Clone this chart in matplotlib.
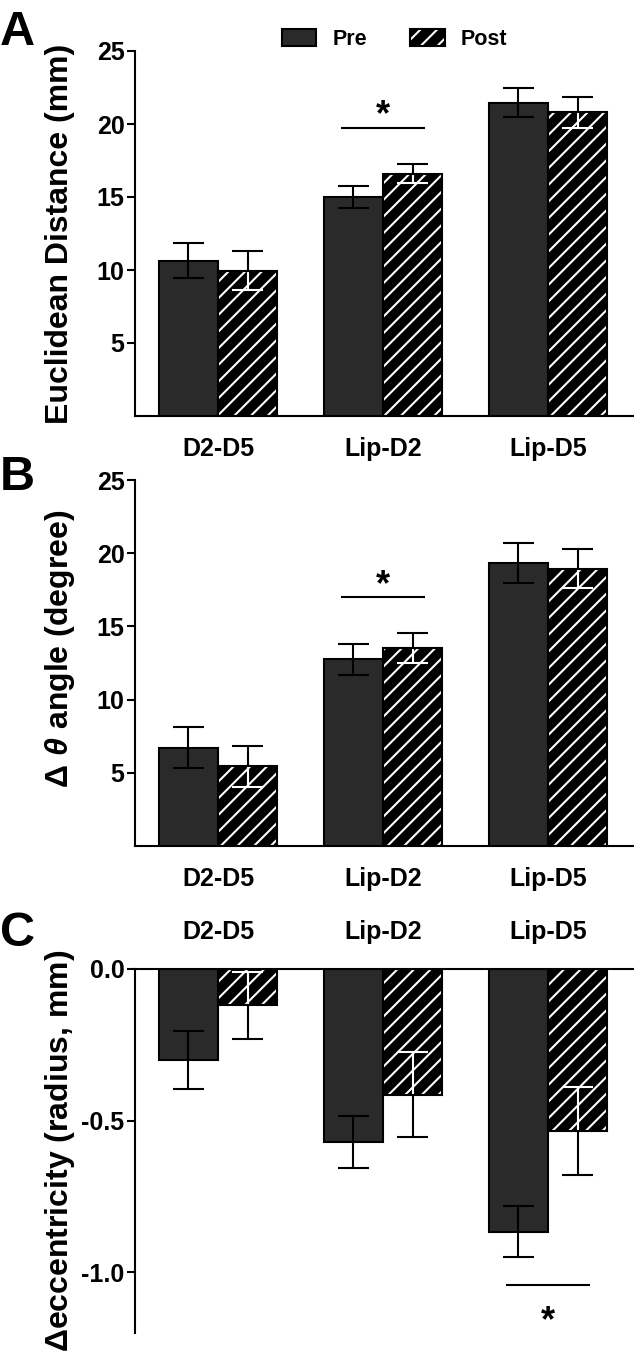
import numpy as np
import matplotlib
matplotlib.use("Agg")
import matplotlib.pyplot as plt
from matplotlib.patches import Patch
from matplotlib.legend_handler import HandlerTuple

categories = ["D2-D5", "Lip-D2", "Lip-D5"]

dist_pre = [10.65, 15.0, 21.45]
dist_pre_err = [1.2, 0.75, 1.0]
dist_post = [9.95, 16.6, 20.8]
dist_post_err = [1.35, 0.65, 1.05]

angle_pre = [6.7, 12.75, 19.35]
angle_pre_err = [1.4, 1.05, 1.37]
angle_post = [5.45, 13.55, 18.95]
angle_post_err = [1.4, 1.02, 1.35]

ecc_pre = [-0.30, -0.57, -0.866]
ecc_pre_err = [0.097, 0.087, 0.085]
ecc_post = [-0.12, -0.415, -0.534]
ecc_post_err = [0.11, 0.14, 0.145]

# significance: (group, line level, star level)
sig_dist = (1, 19.75, 20.6)
sig_angle = (1, 17.0, 17.8)
sig_ecc = (2, -1.043, -1.163)

PRE = "#2a2a2a"
W = 0.36
CAP = 0.095
LW = 1.5

plt.rcParams["font.family"] = ["Liberation Sans", "DejaVu Sans"]
plt.rcParams["font.weight"] = "bold"
plt.rcParams["axes.unicode_minus"] = False
plt.rcParams["hatch.linewidth"] = 1.5
plt.rcParams["mathtext.fontset"] = "custom"
plt.rcParams["mathtext.rm"] = "Liberation Sans"
plt.rcParams["mathtext.it"] = "Liberation Sans:italic"
plt.rcParams["mathtext.bf"] = "Liberation Sans:bold"

H = 1353
fig = plt.figure(figsize=(6.34, 13.53), dpi=100)


def box(top, bottom):
  return [135 / 634, 1 - bottom / H, 1 - 135 / 634, (bottom - top) / H]


def half_err(ax, x, v, e, color, side):
  end = v + side * e
  ax.vlines(x, v, end, color=color, lw=LW, zorder=4)
  ax.hlines(end, x - CAP, x + CAP, color=color, lw=LW, zorder=4)


def bars(ax, pre, pre_err, post, post_err):
  x = np.arange(len(categories))
  ax.bar(x - W / 2, pre, W, color=PRE, edgecolor="black", linewidth=LW, zorder=2)
  ax.bar(x + W / 2, post, W, color="black", edgecolor="white", hatch="//", linewidth=0, zorder=2)
  ax.bar(x + W / 2, post, W, color="none", edgecolor="black", linewidth=LW, zorder=5)
  for i in range(len(categories)):
    s = 1 if pre[i] >= 0 else -1
    half_err(ax, x[i] - W / 2, pre[i], pre_err[i], "black", s)
    half_err(ax, x[i] - W / 2, pre[i], pre_err[i], "black", -s)
    s = 1 if post[i] >= 0 else -1
    half_err(ax, x[i] + W / 2, post[i], post_err[i], "black", s)
    half_err(ax, x[i] + W / 2, post[i], post_err[i], "white", -s)


def sig(ax, s):
  g, line, star = s
  ax.hlines(line, g - 0.255, g + 0.255, color="black", lw=LW)
  ax.text(g, star, "*", ha="center", va="center", fontsize=26, fontweight="bold")


def style(ax, ylabel, ly):
  ax.set_xlim(-0.503, 2.521)
  ax.set_xticks(range(len(categories)))
  ax.set_xticklabels(categories, fontsize=18, fontweight="bold")
  ax.tick_params(axis="x", length=0, pad=15)
  ax.tick_params(axis="y", length=6, width=LW, pad=1.5, labelsize=18)
  for sp in ax.spines.values():
    sp.set_linewidth(LW)
  ax.spines["right"].set_visible(False)
  ax.set_ylabel(ylabel, fontsize=23, fontweight="bold", va="center")
  ax.yaxis.set_label_coords(-0.15, ly)


# A
axA = fig.add_axes(box(51, 416))
bars(axA, dist_pre, dist_pre_err, dist_post, dist_post_err)
sig(axA, sig_dist)
axA.set_ylim(0, 25)
axA.set_yticks([5, 10, 15, 20, 25])
axA.spines["top"].set_visible(False)
style(axA, "Euclidean Distance (mm)", 0.5)

# B
axB = fig.add_axes(box(480, 846))
bars(axB, angle_pre, angle_pre_err, angle_post, angle_post_err)
sig(axB, sig_angle)
axB.set_ylim(0, 25)
axB.set_yticks([5, 10, 15, 20, 25])
axB.spines["top"].set_visible(False)
style(axB, r"$\Delta\ \theta$ angle (degree)", 0.54)

# C
axC = fig.add_axes(box(969, 1333))
bars(axC, ecc_pre, ecc_pre_err, ecc_post, ecc_post_err)
sig(axC, sig_ecc)
axC.set_ylim(-1.2, 0)
axC.set_yticks([-1.0, -0.5, 0.0])
axC.set_yticklabels(["-1.0", "-0.5", "0.0"])
axC.spines["bottom"].set_visible(False)
axC.xaxis.tick_top()
style(axC, r"$\Delta$eccentricity (radius, mm)", 0.5)
axC.tick_params(axis="x", pad=18)

# legend
pre_h = Patch(facecolor=PRE, edgecolor="black", linewidth=LW)
post_h = (Patch(facecolor="black", edgecolor="white", hatch="//", linewidth=0),
          Patch(facecolor="none", edgecolor="black", linewidth=LW))
fig.legend([pre_h, post_h], ["Pre", "Post"], handler_map={tuple: HandlerTuple(ndivide=1, pad=0)},
           loc="center left", bbox_to_anchor=(282 / 634, 1 - 39.5 / H), ncol=2, frameon=False,
           handlelength=1.6, handleheight=0.78, handletextpad=0.75,
           columnspacing=2.0, borderpad=0, borderaxespad=0, prop={"weight": "bold", "size": 15.5})

# panel letters
for letter, base in [("A", 45), ("B", 490), ("C", 946)]:
  fig.text(0.0, 1 - base / H, letter, fontsize=35, fontweight="bold", ha="left", va="baseline")

fig.savefig("out.png", dpi=100)
